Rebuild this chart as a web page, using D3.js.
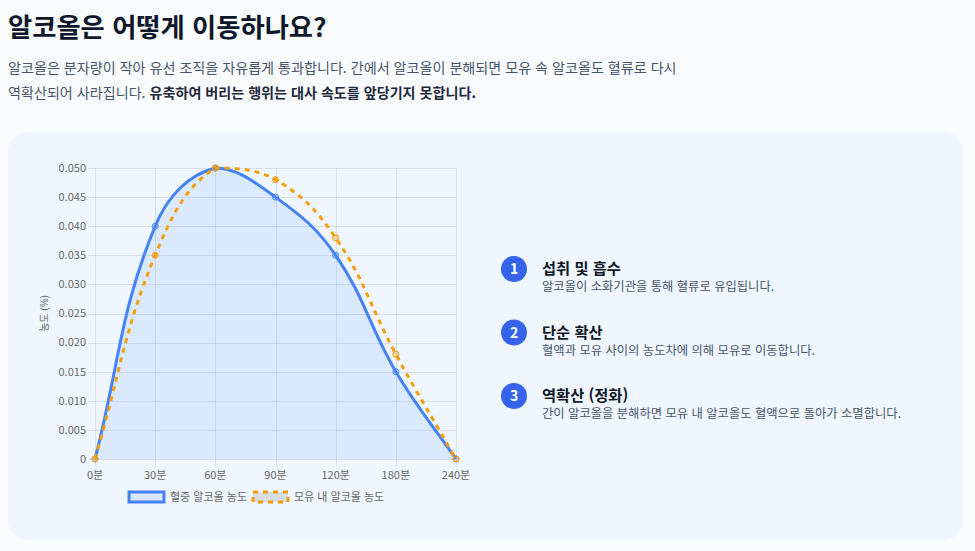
<!DOCTYPE html>
<html lang="ko">
<head>
<meta charset="utf-8">
<script src="https://cdn.jsdelivr.net/npm/d3@7"></script>
<style>
  html, body { margin: 0; padding: 0; background: #f8fafc; }
  svg { display: block; }
  text { font-family: "Noto Sans CJK KR", "Noto Sans", sans-serif; }
  .tick-label, .chart-text { font-family: "Liberation Sans", "Noto Sans CJK KR", sans-serif; }
</style>
</head>
<body>
<div id="chart"></div>
<script>
const times = ["0분", "30분", "60분", "90분", "120분", "180분", "240분"];
const bloodLevels = [0, 0.04, 0.05, 0.045, 0.035, 0.015, 0];
const milkLevels = [0, 0.035, 0.05, 0.048, 0.038, 0.018, 0];
const yTicks = [0, 0.005, 0.01, 0.015, 0.02, 0.025, 0.03, 0.035, 0.04, 0.045, 0.05];
const seriesNames = ["혈중 알코올 농도", "모유 내 알코올 농도"];
const steps = [
  { num: "1", title: "섭취 및 흡수", desc: "알코올이 소화기관을 통해 혈류로 유입됩니다." },
  { num: "2", title: "단순 확산", desc: "혈액과 모유 사이의 농도차에 의해 모유로 이동합니다." },
  { num: "3", title: "역확산 (정화)", desc: "간이 알코올을 분해하면 모유 내 알코올도 혈액으로 돌아가 소멸합니다." }
];

const width = 975, height = 551;
const area = { left: 95, right: 456, top: 168, bottom: 459 };

const svg = d3.select("#chart").append("svg")
  .attr("width", width).attr("height", height);

// heading
svg.append("text")
  .attr("x", 8).attr("y", 37)
  .attr("font-size", 26.3).attr("font-weight", 700).attr("fill", "#0f172a")
  .text("알코올은 어떻게 이동하나요?");

const intro = svg.append("g").attr("font-size", 14.1).attr("fill", "#475569");
intro.append("text").attr("x", 8).attr("y", 73)
  .text("알코올은 분자량이 작아 유선 조직을 자유롭게 통과합니다. 간에서 알코올이 분해되면 모유 속 알코올도 혈류로 다시");
const line2 = intro.append("text").attr("x", 8).attr("y", 98);
line2.append("tspan").text("역확산되어 사라집니다. ");
line2.append("tspan").attr("font-weight", 700).attr("fill", "#1e293b")
  .text("유축하여 버리는 행위는 대사 속도를 앞당기지 못합니다.");

// card
svg.append("rect")
  .attr("x", 8).attr("y", 132).attr("width", 955).attr("height", 408)
  .attr("rx", 20).attr("fill", "#eff6ff");

// scales
const x = d3.scalePoint().domain(times).range([area.left, area.right]);
const y = d3.scaleLinear().domain([0, 0.05]).range([area.bottom, area.top]);

const grid = svg.append("g").attr("stroke", "rgba(0,0,0,0.09)").attr("stroke-width", 1);
grid.selectAll(".h").data(yTicks).join("line")
  .attr("x1", area.left - 7).attr("x2", area.right)
  .attr("y1", d => Math.round(y(d)) + 0.5).attr("y2", d => Math.round(y(d)) + 0.5);
grid.selectAll(".v").data(times).join("line")
  .attr("x1", d => Math.round(x(d)) + 0.5).attr("x2", d => Math.round(x(d)) + 0.5)
  .attr("y1", area.top).attr("y2", area.bottom + 7);

const tickFmt = d3.format(".3f");
svg.append("g").attr("class", "tick-label").attr("font-size", 11).attr("fill", "#666")
  .selectAll("text").data(yTicks).join("text")
  .attr("x", area.left - 9).attr("y", d => y(d)).attr("dy", "0.35em")
  .attr("text-anchor", "end")
  .text(d => d === 0 ? "0" : tickFmt(d));

svg.append("g").attr("class", "tick-label").attr("font-size", 11).attr("fill", "#666")
  .selectAll("text").data(times).join("text")
  .attr("x", d => x(d)).attr("y", area.bottom + 20)
  .attr("text-anchor", "middle")
  .text(d => d);

svg.append("text").attr("class", "chart-text")
  .attr("transform", `translate(48,${(area.top + area.bottom) / 2}) rotate(-90)`)
  .attr("text-anchor", "middle").attr("font-size", 10).attr("fill", "#666")
  .text("농도 (%)");

// spline like Chart.js (tension 0.4, control points capped to chart area)
function splinePoints(values, tension) {
  const pts = values.map((v, i) => ({ x: x(times[i]), y: y(v) }));
  pts.forEach((p, i) => {
    const prev = pts[i - 1] || p, next = pts[i + 1] || p;
    const d01 = Math.hypot(p.x - prev.x, p.y - prev.y);
    const d12 = Math.hypot(next.x - p.x, next.y - p.y);
    let s01 = d01 / (d01 + d12), s12 = d12 / (d01 + d12);
    if (isNaN(s01)) s01 = 0;
    if (isNaN(s12)) s12 = 0;
    const fa = tension * s01, fb = tension * s12;
    p.cpIn = { x: p.x - fa * (next.x - prev.x), y: p.y - fa * (next.y - prev.y) };
    p.cpOut = { x: p.x + fb * (next.x - prev.x), y: p.y + fb * (next.y - prev.y) };
    [p.cpIn, p.cpOut].forEach(c => {
      c.x = Math.max(area.left, Math.min(area.right, c.x));
      c.y = Math.max(area.top, Math.min(area.bottom, c.y));
    });
  });
  return pts;
}

function curvePath(pts, closeToBase) {
  const p = d3.path();
  p.moveTo(pts[0].x, pts[0].y);
  for (let i = 1; i < pts.length; i++) {
    const a = pts[i - 1], b = pts[i];
    p.bezierCurveTo(a.cpOut.x, a.cpOut.y, b.cpIn.x, b.cpIn.y, b.x, b.y);
  }
  if (closeToBase) {
    p.lineTo(pts[pts.length - 1].x, area.bottom);
    p.lineTo(pts[0].x, area.bottom);
    p.closePath();
  }
  return p.toString();
}

const bloodPts = splinePoints(bloodLevels, 0.4);
const milkPts = splinePoints(milkLevels, 0.4);

svg.append("path").attr("d", curvePath(bloodPts, true))
  .attr("fill", "rgba(59,130,246,0.11)");

svg.append("path").attr("d", curvePath(bloodPts, false))
  .attr("fill", "none").attr("stroke", "#4582f5").attr("stroke-width", 3);
svg.append("g").selectAll("circle").data(bloodPts).join("circle")
  .attr("cx", d => d.x).attr("cy", d => d.y).attr("r", 3)
  .attr("fill", "rgba(59,130,246,0.15)").attr("stroke", "#4582f5").attr("stroke-width", 1);

svg.append("path").attr("d", curvePath(milkPts, false))
  .attr("fill", "none").attr("stroke", "#f59e0b").attr("stroke-width", 3)
  .attr("stroke-dasharray", "5,5");
svg.append("g").selectAll("circle").data(milkPts).join("circle")
  .attr("cx", d => d.x).attr("cy", d => d.y).attr("r", 3)
  .attr("fill", "rgba(245,158,11,0.35)").attr("stroke", "#f59e0b").attr("stroke-width", 1);

// legend
const legend = svg.append("g").attr("class", "chart-text").attr("font-size", 11).attr("fill", "#666");
const lg1 = legend.append("g").attr("transform", "translate(129,492)");
lg1.append("rect").attr("width", 35).attr("height", 10)
  .attr("fill", "rgba(59,130,246,0.12)").attr("stroke", "#4582f5").attr("stroke-width", 3);
lg1.append("text").attr("x", 41).attr("y", 5).attr("dy", "0.35em").text(seriesNames[0]);
const lg2 = legend.append("g").attr("transform", "translate(253,492)");
lg2.append("rect").attr("width", 35).attr("height", 10)
  .attr("fill", "rgba(0,0,0,0.1)").attr("stroke", "#f59e0b").attr("stroke-width", 3)
  .attr("stroke-dasharray", "5,5");
lg2.append("text").attr("x", 41).attr("y", 5).attr("dy", "0.35em").text(seriesNames[1]);

// steps list
const stepY = d3.scalePoint().domain(steps.map(d => d.num)).range([269, 396]);
const item = svg.append("g").selectAll("g").data(steps).join("g")
  .attr("transform", d => `translate(514,${stepY(d.num)})`);
item.append("circle").attr("r", 13).attr("fill", "#3563e9");
item.append("text").attr("text-anchor", "middle").attr("dy", "0.36em")
  .attr("font-size", 14).attr("font-weight", 700).attr("fill", "#fff")
  .attr("font-family", "Inter, 'Noto Sans', sans-serif")
  .text(d => d.num);
item.append("text").attr("x", 28).attr("y", 5)
  .attr("font-size", 15.3).attr("font-weight", 700).attr("fill", "#111827")
  .text(d => d.title);
item.append("text").attr("x", 28).attr("y", 22)
  .attr("font-size", 12.3).attr("fill", "#475569")
  .text(d => d.desc);
</script>
</body>
</html>
